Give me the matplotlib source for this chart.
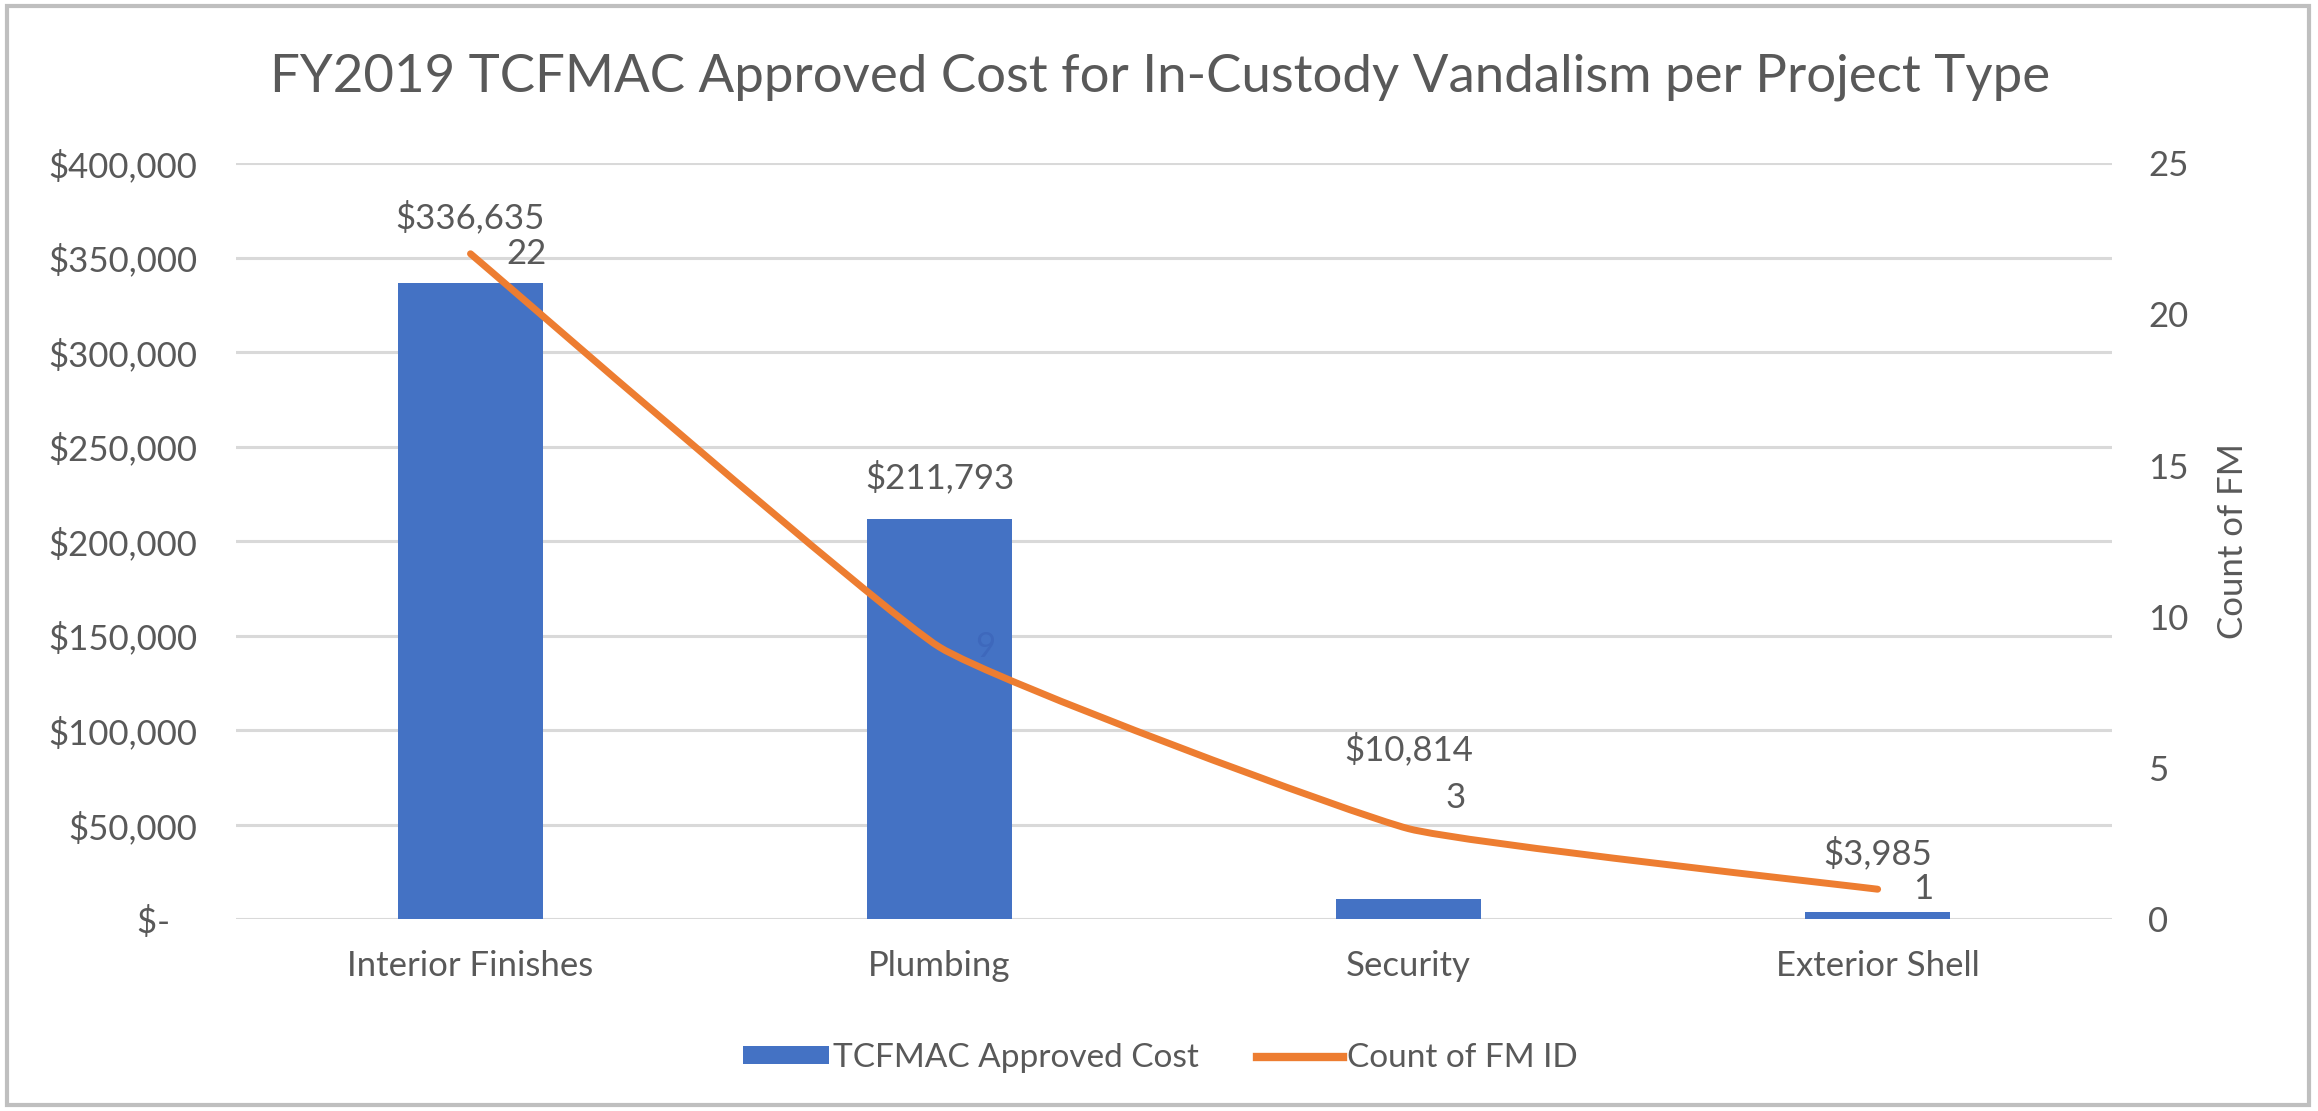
import numpy as np
import matplotlib
matplotlib.use("Agg")
import matplotlib.pyplot as plt
from matplotlib.patches import Patch, PathPatch, Rectangle
from matplotlib.lines import Line2D
from matplotlib.path import Path
from matplotlib.ticker import FuncFormatter, MultipleLocator

plt.rcParams['font.family'] = ['Lato', 'DejaVu Sans']

categories = ['Interior Finishes', 'Plumbing', 'Security', 'Exterior Shell']
approved_cost = [336635, 211793, 10814, 3985]
fm_count = [22, 9, 3, 1]

BLUE = '#4472C4'
ORANGE = '#ED7D31'
TEXT = '#595959'
GRID = '#D9D9D9'

fig = plt.figure(figsize=(23.18, 11.11), dpi=100)
ax = fig.add_axes([0.1018, 0.1724, 0.8094, 0.6809])
ax2 = ax.twinx()

x = np.arange(len(categories))
ax.bar(x, approved_cost, width=0.31, color=BLUE, zorder=2)

ax.set_xlim(-0.5, len(categories) - 0.5)
ax.set_ylim(0, 400000)
ax2.set_ylim(0, 25)
ax.yaxis.set_major_locator(MultipleLocator(50000))
ax2.yaxis.set_major_locator(MultipleLocator(5))


def money(v, pos=None):
    if v == 0:
        return '$-   '
    return '${:,.0f}'.format(v)


ax.yaxis.set_major_formatter(FuncFormatter(money))
ax.set_xticks(x)
ax.set_xticklabels(categories)
ax.grid(axis='y', color=GRID, linewidth=2.2, zorder=0)
ax.set_axisbelow(True)

for a in (ax, ax2):
    for s in a.spines.values():
        s.set_visible(False)
    a.tick_params(length=0, colors=TEXT, labelsize=25)
ax.tick_params(axis='y', pad=28)
ax.tick_params(axis='x', pad=22)
ax2.tick_params(axis='y', pad=26)
ax2.set_ylabel('Count of FM', color=TEXT, fontsize=25, labelpad=20)

# count line, lightly smoothed at the joints (cubic Bezier through each point)
tension = 0.06
pts = np.column_stack([x, fm_count]).astype(float)
verts = [tuple(pts[0])]
codes = [Path.MOVETO]
for i in range(len(pts) - 1):
    p_prev = pts[i - 1] if i > 0 else pts[i]
    p_next = pts[i + 2] if i + 2 < len(pts) else pts[i + 1]
    c1 = pts[i] + (pts[i + 1] - p_prev) * tension
    c2 = pts[i + 1] - (p_next - pts[i]) * tension
    verts += [tuple(c1), tuple(c2), tuple(pts[i + 1])]
    codes += [Path.CURVE4] * 3
ax2.add_patch(PathPatch(Path(verts, codes), facecolor='none', edgecolor=ORANGE,
                        linewidth=5, capstyle='round', joinstyle='round', zorder=3))

# cost labels above the bars
cost_offsets = [47, 30, 108, 42]
for xi, v, off in zip(x, approved_cost, cost_offsets):
    ax.annotate('${:,.0f}'.format(v), (xi, v), xytext=(0, off),
                textcoords='offset points', ha='center', va='center',
                fontsize=25, color=TEXT, zorder=4)

# count labels to the right of the line points (the Plumbing one sits on the bar)
count_offsets = [(40, 0), (33, 0), (34, 22), (33, 0)]
for i, (xi, c, off) in enumerate(zip(x, fm_count, count_offsets)):
    col = '#3E68BC' if i == 1 else TEXT
    ax2.annotate(str(c), (xi, c), xytext=off, textcoords='offset points',
                 ha='center', va='center', fontsize=25, color=col, zorder=4)

fig.text(0.5005, 1 - 77 / 1111, 'FY2019 TCFMAC Approved Cost for In-Custody Vandalism per Project Type',
         ha='center', va='center', fontsize=38, color=TEXT)

handles = [Patch(facecolor=BLUE, edgecolor='none'),
           Line2D([0], [0], color=ORANGE, linewidth=6)]
fig.legend(handles, ['TCFMAC Approved Cost', 'Count of FM ID'], loc='center',
           bbox_to_anchor=(1160 / 2318, 1 - 1058 / 1111), ncol=2, frameon=False,
           fontsize=24, labelcolor=TEXT, handlelength=2.6, handleheight=0.45,
           handletextpad=0.1, columnspacing=1.75)

# chart border
fig.add_artist(Rectangle((0.003, 0.005), 0.993, 0.99, transform=fig.transFigure,
                         fill=False, edgecolor='#BFBFBF', linewidth=3))

fig.savefig('out.png', dpi=100, facecolor='white')
